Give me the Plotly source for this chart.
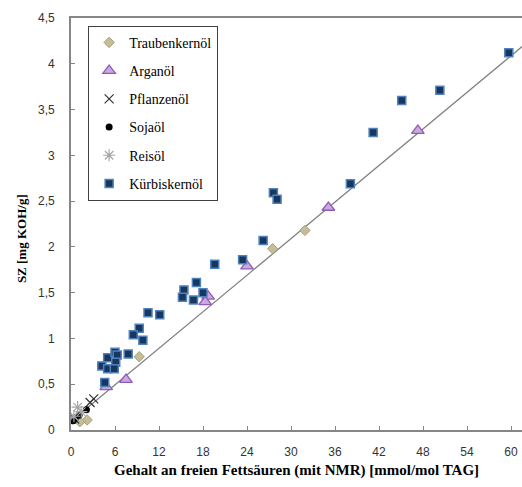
import plotly.graph_objects as go

# ---- data ----
trauben_x = [31.9, 27.5, 9.3, 2.2, 1.2]
trauben_y = [2.18, 1.98, 0.80, 0.11, 0.09]

argan_x = [47.3, 35.1, 24.0, 18.7, 18.3, 7.5, 4.8]
argan_y = [3.27, 2.43, 1.79, 1.46, 1.40, 0.55, 0.47]

pflanzen_x = [3.1, 2.6, 0.5]
pflanzen_y = [0.34, 0.30, 0.12]

soja_x = [2.1, 1.1, 0.6, 0.3]
soja_y = [0.22, 0.16, 0.13, 0.10]

reis_x = [0.9, 1.4, 0.4]
reis_y = [0.25, 0.20, 0.15]

kuerbis_x = [59.7, 50.3, 45.1, 41.2, 38.1, 27.6, 28.1, 26.2, 23.4, 19.6,
             17.1, 15.4, 18.0, 15.2, 16.7, 10.5, 12.1, 9.3, 8.5, 9.8,
             4.2, 5.0, 6.0, 6.3, 7.8, 6.1, 5.0, 5.9, 4.6]
kuerbis_y = [4.12, 3.71, 3.60, 3.25, 2.69, 2.59, 2.52, 2.07, 1.86, 1.81,
             1.61, 1.53, 1.50, 1.45, 1.42, 1.28, 1.26, 1.11, 1.04, 0.98,
             0.70, 0.79, 0.85, 0.82, 0.83, 0.74, 0.67, 0.67, 0.52]

trend_x = [0.1, 62.0]
trend_y = [0.10, 4.22]

x_ticks = [0, 6, 12, 18, 24, 30, 36, 42, 48, 54, 60]
y_ticks = [0, 0.5, 1, 1.5, 2, 2.5, 3, 3.5, 4, 4.5]

x_title = "Gehalt an freien Fettsäuren (mit NMR) [mmol/mol TAG]"
y_title = "SZ [mg KOH/g]"

fig = go.Figure()

fig.add_trace(go.Scatter(x=trend_x, y=trend_y, mode="lines",
                         line=dict(color="#808080", width=1.3),
                         showlegend=False, hoverinfo="skip"))

series = [
    ("Traubenkernöl", trauben_x, trauben_y,
     dict(symbol="diamond", size=8, color="#C4BD97", line=dict(color="#A8A07A", width=1))),
    ("Arganöl", argan_x, argan_y,
     dict(symbol="triangle-up", size=11, color="#CCA8E0", line=dict(color="#8E5DB8", width=1.3))),
    ("Pflanzenöl", pflanzen_x, pflanzen_y,
     dict(symbol="x-thin", size=9, color="#333333", line=dict(color="#333333", width=1.2))),
    ("Sojaöl", soja_x, soja_y,
     dict(symbol="circle", size=7, color="#000000", line=dict(color="#000000", width=0))),
    ("Reisöl", reis_x, reis_y,
     dict(symbol="asterisk-open", size=10, color="#A6A6A6", line=dict(color="#A6A6A6", width=1.2))),
    ("Kürbiskernöl", kuerbis_x, kuerbis_y,
     dict(symbol="square", size=8, color="#17375E", line=dict(color="#4F81BD", width=1.5))),
]

for i, (name, xs, ys, mk) in enumerate(series):
    fig.add_trace(go.Scatter(x=xs, y=ys, mode="markers", name=name,
                             marker=mk, legendgroup=f"g{i}"))

fig.update_layout(
    width=522, height=487,
    margin=dict(l=71, r=0, t=18, b=57),
    paper_bgcolor="white", plot_bgcolor="white",
    separators=",.",
    font=dict(family="Liberation Serif", color="#000000"),
    legend=dict(x=0.038, y=0.981, xanchor="left", yanchor="top",
                bgcolor="white", bordercolor="#404040", borderwidth=1,
                font=dict(family="Liberation Serif", size=14),
                tracegroupgap=7, itemwidth=30, traceorder="grouped"),
    xaxis=dict(range=[0, 61.5], tickvals=x_ticks, ticks="inside", ticklen=4,
               tickcolor="#868686", showline=True, linecolor="#868686", linewidth=1.6,
               mirror=True, showgrid=False, zeroline=False, ticklabelstandoff=10,
               tickfont=dict(family="Liberation Sans", size=12, color="#333333")),
    yaxis=dict(range=[0, 4.5], tickvals=y_ticks, ticks="inside", ticklen=4,
               tickcolor="#868686", showline=True, linecolor="#868686", linewidth=1.6,
               showgrid=False, zeroline=False, ticklabelstandoff=12,
               tickfont=dict(family="Liberation Sans", size=12, color="#333333")),
    annotations=[
        dict(text=f"<b>{x_title}</b>", xref="paper", yref="paper",
             x=0.501, y=-0.098, xanchor="center", yanchor="middle", showarrow=False,
             font=dict(family="Liberation Serif", size=15)),
        dict(text=f"<b>{y_title}</b>", xref="paper", yref="paper",
             x=-0.108, y=0.464, xanchor="center", yanchor="middle", showarrow=False,
             textangle=-90, font=dict(family="Liberation Serif", size=13)),
    ],
)

fig.write_html("out.html")
